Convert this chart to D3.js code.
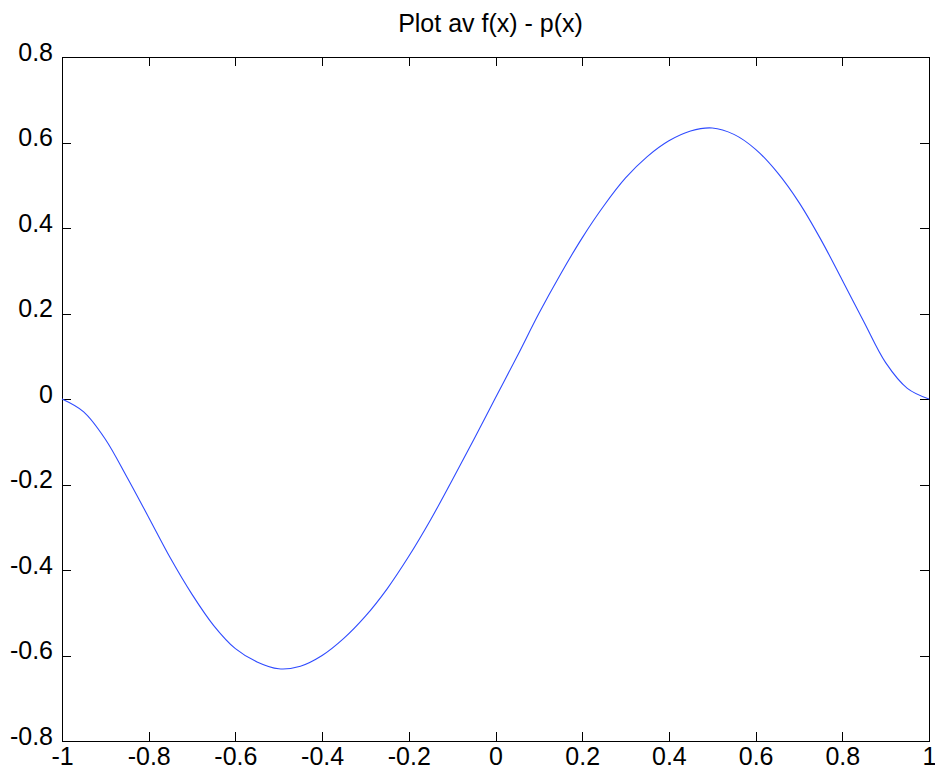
<!DOCTYPE html>
<html>
<head>
<meta charset="utf-8">
<script src="https://cdn.jsdelivr.net/npm/d3@7"></script>
<style>
  html, body { margin: 0; padding: 0; background: #fff; }
  svg { display: block; }
  text { font-family: "Liberation Sans", Arial, Helvetica, sans-serif; fill: #000; }
</style>
</head>
<body>
<svg id="chart" width="935" height="769"></svg>
<script>
// Sampled error curve f(x) - p(x) on [-1, 1]
const xValues = [
  -1.00, -0.95, -0.90, -0.85, -0.80, -0.75, -0.70, -0.65, -0.60, -0.55,
  -0.50, -0.45, -0.40, -0.35, -0.30, -0.25, -0.20, -0.15, -0.10, -0.05,
   0.00,  0.05,  0.10,  0.15,  0.20,  0.25,  0.30,  0.35,  0.40,  0.45,
   0.50,  0.55,  0.60,  0.65,  0.70,  0.75,  0.80,  0.85,  0.90,  0.95,
   1.00
];
const yValues = [
   0.000, -0.030, -0.094, -0.183, -0.277, -0.372, -0.457, -0.530, -0.584, -0.615,
  -0.631, -0.625, -0.600, -0.560, -0.508, -0.444, -0.368, -0.283, -0.190, -0.095,
   0.003,  0.100,  0.200,  0.292,  0.377,  0.452,  0.517,  0.567,  0.604,  0.627,
   0.634,  0.619,  0.584,  0.530,  0.460,  0.374,  0.278,  0.180,  0.085,  0.025,
   0.000
];

const xTicks = [-1, -0.8, -0.6, -0.4, -0.2, 0, 0.2, 0.4, 0.6, 0.8, 1];
const xTickLabels = ["-1", "-0.8", "-0.6", "-0.4", "-0.2", "0", "0.2", "0.4", "0.6", "0.8", "1"];
const yTicks = [-0.8, -0.6, -0.4, -0.2, 0, 0.2, 0.4, 0.6, 0.8];
const yTickLabels = ["-0.8", "-0.6", "-0.4", "-0.2", "0", "0.2", "0.4", "0.6", "0.8"];
const titleText = "Plot av f(x) - p(x)";

const svg = d3.select("#chart");
const boxLeft = 62, boxRight = 929, boxTop = 57, boxBottom = 741;
const tickLen = 9;
const fontSize = 25;

const x = d3.scaleLinear().domain([-1, 1]).range([boxLeft, boxRight]);
const y = d3.scaleLinear().domain([-0.8, 0.8]).range([boxBottom, boxTop]);

// plot box
svg.append("rect")
  .attr("x", boxLeft).attr("y", boxTop)
  .attr("width", boxRight - boxLeft).attr("height", boxBottom - boxTop)
  .attr("fill", "#fff").attr("stroke", "#000").attr("stroke-width", 1)
  .attr("shape-rendering", "crispEdges");

// inward ticks on all four sides
const xFmt = (d) => xTickLabels[xTicks.indexOf(d)];
const yFmt = (d) => yTickLabels[yTicks.indexOf(d)];

const gBottom = svg.append("g").attr("transform", `translate(0,${boxBottom})`)
  .call(d3.axisBottom(x).tickValues(xTicks).tickFormat(xFmt)
        .tickSizeInner(-tickLen).tickSizeOuter(0).tickPadding(6));
const gTop = svg.append("g").attr("transform", `translate(0,${boxTop})`)
  .call(d3.axisTop(x).tickValues(xTicks).tickFormat(() => "")
        .tickSizeInner(-tickLen).tickSizeOuter(0));
const gLeft = svg.append("g").attr("transform", `translate(${boxLeft},0)`)
  .call(d3.axisLeft(y).tickValues(yTicks).tickFormat(yFmt)
        .tickSizeInner(-tickLen).tickSizeOuter(0).tickPadding(9));
const gRight = svg.append("g").attr("transform", `translate(${boxRight},0)`)
  .call(d3.axisRight(y).tickValues(yTicks).tickFormat(() => "")
        .tickSizeInner(-tickLen).tickSizeOuter(0));

[gBottom, gTop, gLeft, gRight].forEach(g => {
  g.select(".domain").remove();
  g.selectAll(".tick line").attr("stroke", "#000").attr("shape-rendering", "crispEdges");
  g.selectAll(".tick text")
    .attr("font-family", "'Liberation Sans', Arial, Helvetica, sans-serif")
    .attr("font-size", fontSize).attr("fill", "#000");
});
gLeft.selectAll(".tick text").attr("dy", "0.12em");

// curve
const pts = xValues.map((v, i) => [v, yValues[i]]);
const line = d3.line()
  .x(d => x(d[0]))
  .y(d => y(d[1]))
  .curve(d3.curveCatmullRom.alpha(0.5));

svg.append("path")
  .datum(pts)
  .attr("d", line)
  .attr("fill", "none")
  .attr("stroke", "#2f4bff")
  .attr("stroke-width", 1.1);

// title
svg.append("text")
  .attr("x", (boxLeft + boxRight) / 2 - 5)
  .attr("y", 32)
  .attr("text-anchor", "middle")
  .attr("font-size", fontSize)
  .text(titleText);
</script>
</body>
</html>
